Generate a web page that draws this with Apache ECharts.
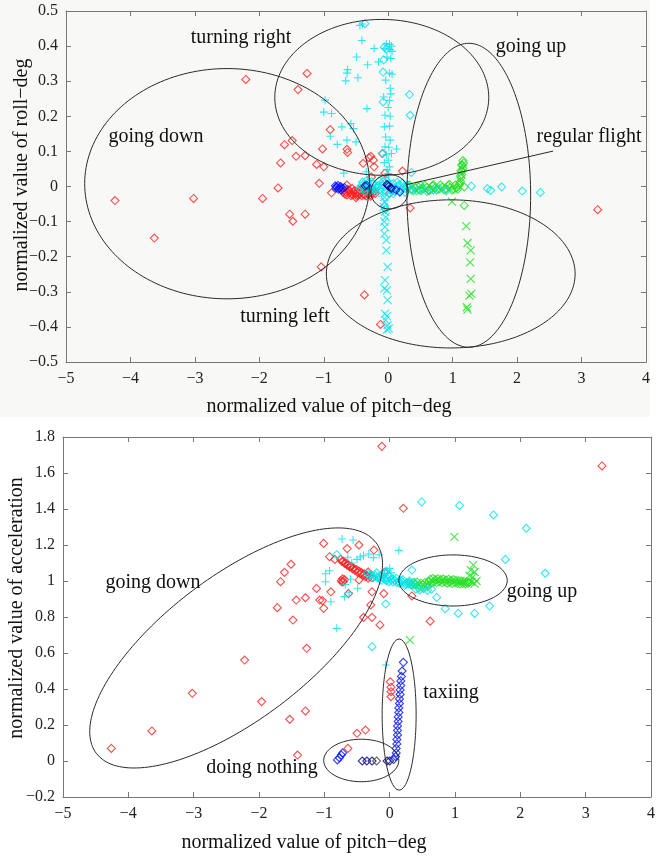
<!DOCTYPE html>
<html>
<head>
<meta charset="utf-8">
<script src="https://cdn.jsdelivr.net/npm/echarts@6/dist/echarts.min.js"></script>
<style>
  html, body { margin: 0; padding: 0; background: #fff; }
  #main { width: 664px; height: 858px; }
</style>
</head>
<body>
<div id="main"></div>
<script>
// ---------- top panel: pitch vs roll ----------
const topRed = [
  [-2.21, 0.305], [-1.26, 0.322], [-1.40, 0.276], [-0.90, 0.162], [-1.49, 0.131],
  [-1.61, 0.119], [-1.02, 0.107], [-0.64, 0.106], [-0.63, 0.097], [-1.43, 0.086],
  [-1.29, 0.088], [-1.67, 0.067], [-1.11, 0.063], [-1.00, 0.056], [-1.71, -0.004],
  [-1.07, 0.009], [-0.88, -0.018], [-4.24, -0.040], [-3.02, -0.034], [-1.95, -0.034],
  [-3.63, -0.147], [-1.53, -0.079], [-1.48, -0.099], [-1.29, -0.079], [-1.04, -0.229],
  [-0.39, 0.066], [-0.27, 0.086], [-0.23, 0.075], [-0.30, 0.082], [-0.22, 0.056],
  [-0.26, 0.027], [-0.09, 0.094], [-0.05, 0.038], [0.22, 0.044], [0.34, -0.061],
  [-0.37, -0.309], [-0.12, -0.393], [0.63, -0.011], [3.25, -0.066], [-0.50, -0.032],
  [-0.27, -0.028], [0.02, -0.020], [-0.64, 0.004]
]
const topRedRun = [
  [-0.72, -0.004], [-0.69, -0.010], [-0.66, -0.015], [-0.63, -0.008], [-0.60, -0.018],
  [-0.57, -0.020], [-0.54, -0.014], [-0.51, -0.021], [-0.48, -0.017], [-0.45, -0.022],
  [-0.42, -0.016], [-0.39, -0.021], [-0.36, -0.012], [-0.33, -0.019], [-0.30, -0.010],
  [-0.27, -0.016], [-0.24, -0.008], [-0.56, -0.006], [-0.46, -0.009], [-0.38, -0.006],
  [-0.70, -0.016], [-0.67, -0.022], [-0.64, -0.024], [-0.61, -0.010], [-0.58, -0.026],
  [-0.55, -0.024], [-0.52, -0.012], [-0.49, -0.026], [-0.47, -0.024], [-0.44, -0.012],
  [-0.41, -0.026], [-0.37, -0.024], [-0.34, -0.027], [-0.31, -0.022], [-0.28, -0.024],
  [-0.25, -0.020], [-0.22, -0.014], [-0.20, -0.020]
]
const topBlue = [
  [-0.82, 0.002], [-0.80, -0.001], [-0.78, 0.003], [-0.76, -0.004], [-0.74, 0.000],
  [-0.71, -0.006], [-0.68, -0.003], [-0.81, -0.005], [-0.77, -0.008], [-0.73, -0.010],
  [-0.33, 0.003], [-0.01, 0.003], [0.05, -0.006], [0.12, -0.010], [0.18, -0.016]
]
const topNavy = [[-0.36, 0.002], [-0.02, 0.006], [0.01, 0.001], [0.04, -0.003]]
const topCyanPlus = [
  [-0.44, 0.459], [-0.40, 0.463], [-0.41, 0.416], [-0.22, 0.393], [-0.49, 0.369],
  [-0.32, 0.347], [-0.63, 0.333], [-0.64, 0.323], [-0.66, 0.301], [-0.47, 0.310],
  [-0.98, 0.246], [-1.00, 0.212], [-0.88, 0.208], [-0.33, 0.222], [-0.72, 0.170],
  [-0.58, 0.179], [-0.54, 0.165], [-0.90, 0.143], [-0.79, 0.120], [-0.64, 0.132],
  [-0.50, 0.127], [-0.69, 0.038], [-0.34, 0.042], [0.13, 0.107], [-0.15, 0.355],
  [-0.03, 0.407], [0.02, 0.405], [0.05, 0.400], [-0.05, 0.393], [0.03, 0.390], [0.06, 0.385],
  [-0.02, 0.369], [0.04, 0.365], [0.02, 0.323], [0.06, 0.320], [-0.04, 0.303], [0.03, 0.280],
  [0.04, 0.264], [-0.07, 0.255], [0.02, 0.245], [0.00, 0.225], [-0.05, 0.203], [0.03, 0.200],
  [-0.06, 0.170], [0.02, 0.172], [-0.04, 0.141], [0.03, 0.132], [-0.05, 0.113], [0.01, 0.112],
  [0.05, 0.094], [-0.03, 0.090], [0.00, 0.075], [-0.06, 0.068], [0.02, 0.056], [-0.02, 0.048],
  [0.00, 0.037], [-0.04, 0.025], [0.01, 0.018]
]
const topCyanCross = [
  [-0.06, -0.030], [-0.05, -0.045], [-0.07, -0.058], [-0.05, -0.072], [-0.04, -0.087],
  [-0.06, -0.100], [-0.05, -0.115], [-0.06, -0.134], [-0.03, -0.153], [-0.03, -0.182],
  [-0.01, -0.229], [-0.05, -0.267], [-0.06, -0.290], [-0.02, -0.296], [-0.01, -0.324],
  [-0.05, -0.362], [-0.02, -0.369], [-0.04, -0.381], [-0.01, -0.395], [0.01, -0.405], [-0.02, -0.408]
]
const topCyanDiamond = [
  [-0.36, 0.464], [-0.06, 0.397], [-0.03, 0.392], [-0.07, 0.361], [-0.08, 0.326],
  [-0.08, 0.241], [0.33, 0.262], [0.34, 0.203], [0.36, 0.040], [-0.09, 0.094],
  [1.29, 0.001], [1.54, -0.006], [1.59, -0.011], [1.76, -0.001], [2.08, -0.013],
  [2.36, -0.017], [-0.05, -0.030], [-0.06, -0.055], [-0.04, -0.065],
  [-0.42, 0.002], [-0.37, -0.006], [-0.32, 0.010], [-0.28, -0.012], [-0.24, 0.006], [-0.20, -0.016],
  [-0.16, 0.002], [-0.12, -0.008], [-0.08, 0.014], [-0.04, -0.014], [0.00, 0.006], [0.04, -0.010],
  [0.08, 0.008], [0.12, -0.004], [0.16, 0.004], [0.20, -0.008], [0.24, 0.000], [0.28, -0.006],
  [-0.30, -0.002], [-0.18, -0.004], [-0.06, -0.002], [0.06, -0.002], [0.18, -0.012], [0.26, -0.016],
  [-0.40, 0.012], [-0.34, 0.016], [-0.26, 0.014], [-0.22, -0.006], [-0.14, 0.016], [-0.10, 0.004],
  [-0.02, 0.016], [0.02, -0.018], [0.10, -0.014], [0.14, 0.012], [0.22, 0.010], [0.30, 0.004],
  [-0.36, -0.014], [-0.14, -0.018], [0.08, -0.020], [-0.44, -0.006],
  [0.36, -0.010], [0.44, -0.012], [0.52, -0.006], [0.60, -0.014], [0.70, -0.010], [0.80, -0.006], [0.90, -0.012]
]
const topGreenDiamond = [
  [0.30, -0.002], [0.36, -0.008], [0.42, -0.004], [0.48, -0.010], [0.54, -0.006], [0.60, -0.003],
  [0.66, -0.009], [0.72, -0.004], [0.78, -0.008], [0.84, -0.002], [0.90, -0.007], [0.96, -0.003],
  [1.02, -0.008], [1.06, -0.004], [1.10, 0.004], [1.12, 0.014], [1.13, 0.024], [1.14, 0.034],
  [1.15, 0.044], [1.16, 0.052], [1.15, 0.060], [1.17, 0.067], [1.16, 0.074], [1.18, -0.001],
  [1.18, -0.054], [0.50, 0.004], [0.70, 0.005], [0.95, 0.006],
  [0.33, 0.004], [0.39, -0.012], [0.45, 0.002], [0.51, -0.012], [0.57, 0.003], [0.63, -0.011],
  [0.69, 0.002], [0.75, -0.010], [0.81, 0.004], [0.87, -0.010], [0.93, 0.003], [0.99, -0.010],
  [1.04, 0.004], [1.08, -0.008], [1.11, 0.008], [1.13, 0.045], [1.14, 0.062], [1.12, 0.030]
]
const topGreenCross = [
  [0.99, -0.043], [1.21, -0.113], [1.23, -0.161], [1.28, -0.182], [1.27, -0.216],
  [1.28, -0.263], [1.29, -0.306], [1.26, -0.311], [1.22, -0.344], [1.23, -0.351]
]

// ---------- bottom panel: pitch vs acceleration ----------
const botRed = [
  [-0.12, 1.748], [3.25, 1.639], [0.21, 1.404], [-1.01, 1.209], [-0.65, 1.180], [-0.47, 1.200],
  [-0.24, 1.172], [-0.92, 1.135], [-0.84, 1.120], [-1.51, 1.093], [-1.61, 1.048], [-1.67, 0.996],
  [-1.12, 0.959], [-0.90, 0.940], [-0.63, 0.930], [-0.47, 1.006], [-0.27, 0.940], [-0.09, 0.930],
  [-0.08, 1.049], [-1.43, 0.894], [-1.29, 0.907], [-1.07, 0.894], [-1.03, 0.891], [-1.01, 0.848],
  [-1.72, 0.852], [-1.48, 0.783], [-0.40, 0.798], [-0.27, 0.798], [-0.29, 0.867], [-0.15, 0.756],
  [0.34, 0.917], [0.62, 0.777], [-1.27, 0.626], [-2.22, 0.561], [-3.02, 0.376], [-1.96, 0.330],
  [-1.29, 0.278], [-1.53, 0.232], [-3.64, 0.167], [-4.26, 0.070], [-1.41, 0.033], [-0.50, 0.154],
  [-0.37, 0.172], [-0.64, 0.070], [0.01, 0.440], [0.02, 0.410], [0.02, 0.385], [0.02, 0.357],
  [-0.61, 1.080], [-0.33, 1.050]
]
const botRedRun = [
  [-0.75, 1.120], [-0.71, 1.110], [-0.67, 1.100], [-0.63, 1.090], [-0.59, 1.082], [-0.55, 1.072],
  [-0.51, 1.064], [-0.47, 1.055], [-0.43, 1.047], [-0.39, 1.040], [-0.35, 1.032], [-0.31, 1.025],
  [-0.27, 1.018], [-0.74, 1.002], [-0.71, 0.996], [-0.69, 1.008], [-0.72, 1.012],
  [-0.73, 1.108], [-0.69, 1.098], [-0.65, 1.088], [-0.61, 1.078], [-0.57, 1.068], [-0.53, 1.058],
  [-0.49, 1.048], [-0.45, 1.040], [-0.41, 1.032], [-0.37, 1.024], [-0.33, 1.016], [-0.73, 0.994]
]
const botCyanDiamond = [
  [0.49, 1.439], [1.07, 1.420], [1.59, 1.367], [2.09, 1.293], [1.77, 1.120], [2.38, 1.043],
  [1.53, 0.861], [1.30, 0.820], [1.05, 0.820], [0.85, 0.846], [0.72, 0.909], [0.34, 1.061],
  [-0.06, 1.052], [-0.06, 0.872], [-0.27, 0.635], [-0.81, 1.146],
  [0.40, 0.955], [0.46, 0.950], [0.52, 0.960], [0.58, 0.948], [0.64, 0.955],
  [-0.34, 1.042], [-0.28, 1.036], [-0.22, 1.030], [-0.16, 1.026], [-0.10, 1.020], [-0.04, 1.014],
  [0.02, 1.008], [0.08, 1.002], [0.14, 0.998], [0.20, 0.994], [0.26, 0.990], [0.32, 0.986],
  [-0.25, 1.020], [-0.15, 1.012], [-0.05, 1.002], [0.05, 0.995], [0.15, 0.988], [0.25, 0.982],
  [-0.20, 1.045], [-0.10, 1.035], [0.00, 1.025], [0.10, 1.015], [0.20, 1.008], [0.30, 1.000],
  [-0.31, 1.028], [-0.19, 1.018], [-0.07, 1.010], [0.05, 1.012], [0.11, 0.990], [0.17, 1.002],
  [0.23, 0.976], [0.29, 0.984], [0.35, 0.978], [0.38, 0.992], [-0.13, 1.004], [-0.01, 0.996]
]
const botCyanPlus = [
  [-0.73, 1.233], [-0.56, 1.228], [-0.64, 1.132], [-0.45, 1.133], [-0.32, 1.150], [-0.16, 1.146],
  [0.14, 1.170], [-0.92, 1.057], [-0.98, 1.040], [-0.98, 0.996], [-0.68, 0.980], [-0.49, 0.960],
  [-0.69, 0.913], [-0.90, 0.885], [-0.81, 0.737], [-0.06, 0.533], [-0.58, 1.100], [-0.50, 1.120],
  [-0.40, 1.140], [-0.25, 1.130], [-0.04, 1.060], [0.00, 1.070], [-0.60, 1.010], [-0.62, 0.935],
  [-0.08, 1.040], [0.02, 1.045]
]
const botGreenDiamond = [
  [0.30, 0.990], [0.33, 0.978], [0.36, 0.992], [0.39, 0.980], [0.42, 0.994], [0.45, 0.975],
  [0.48, 0.988], [0.51, 0.978], [0.54, 0.992], [0.57, 0.982], [0.60, 0.998], [0.62, 1.010],
  [0.64, 0.988], [0.66, 1.014], [0.68, 0.994], [0.70, 1.008], [0.72, 0.990], [0.74, 1.012],
  [0.76, 0.996], [0.78, 1.008], [0.80, 0.990], [0.82, 1.012], [0.84, 0.994], [0.86, 1.006],
  [0.88, 0.988], [0.90, 1.010], [0.92, 0.992], [0.94, 1.004], [0.96, 0.986], [0.98, 1.008],
  [1.00, 0.990], [1.02, 1.004], [1.04, 0.986], [1.06, 1.002], [1.08, 0.984], [1.10, 1.000],
  [1.12, 0.986], [1.14, 0.998], [1.16, 0.984], [1.18, 0.996], [1.20, 0.988], [1.22, 0.994],
  [0.45, 0.962], [0.52, 0.958], [0.58, 0.968]
]
const botGreenCross = [
  [0.99, 1.245], [1.28, 1.090], [1.24, 1.060], [1.30, 1.050], [1.22, 1.030], [1.27, 1.020],
  [1.33, 1.000], [1.25, 0.995], [1.30, 0.985], [0.31, 0.671]
]
const botBlue = [
  [0.21, 0.548], [0.19, 0.500], [0.18, 0.470], [0.17, 0.445], [0.17, 0.420], [0.16, 0.395],
  [0.16, 0.370], [0.15, 0.345], [0.15, 0.320], [0.14, 0.295], [0.14, 0.270], [0.13, 0.245],
  [0.13, 0.220], [0.12, 0.195], [0.12, 0.170], [0.12, 0.145], [0.11, 0.120], [0.11, 0.095],
  [0.10, 0.070], [0.10, 0.045], [0.09, 0.025], [0.06, 0.008], [-0.80, 0.006], [-0.77, 0.018],
  [-0.74, 0.033], [-0.72, 0.045]
]
const botNavy = [[-0.42, 0], [-0.35, 0], [-0.27, 0], [-0.04, 0], [0.00, 0]]
const botGrey = [[-0.20, 0]]

// ellipses: [cx, cy, rx, ry, rotation(deg)]
const topEllipses = [
  [-2.50, 0.008, 2.21, 0.328, 0],
  [-0.10, 0.254, 1.66, 0.222, 0],
  [1.25, -0.025, 0.96, 0.433, 0],
  [0.97, -0.249, 1.93, 0.211, 0],
  [0.02, -0.015, 0.29, 0.049, 0]
]
const topLeader = [[0.28, 0.005], [2.56, 0.101]]
const botEllipses = [
  [-2.35, 0.628, 2.68, 0.40, 37],
  [0.97, 1.003, 0.83, 0.142, 0],
  [0.145, 0.258, 0.26, 0.42, 0],
  [-0.435, 0.003, 0.575, 0.118, 0]
]

const FONT = '"Liberation Serif", "DejaVu Serif", serif'
const RED = '#ff2020', CYAN = '#00e4ee', GREEN = '#20e020', BLUE = '#0010ff', NAVY = '#000080'
const DIAMOND = 'path://M5,0L10,5L5,10L0,5Z'
const PLUS = 'path://M5,0L5,10M0,5L10,5'
const CROSS = 'path://M0,0L10,10M10,0L0,10'

// grid sizes (used to keep rotated ellipses right in pixel space)
const G0 = { left: 66, top: 11, width: 580, height: 351 }
const G1 = { left: 63, top: 437, width: 588, height: 360 }
const k0 = [G0.width / 9, G0.height / 1.0]
const k1 = [G1.width / 9, G1.height / 2.0]

function ellipse(e, k) {
  const [cx, cy, rx, ry, rot] = e
  const r = rot * Math.PI / 180
  const pts = []
  for (let i = 0; i <= 180; i++) {
    const t = i / 180 * Math.PI * 2
    const ux = rx * k[0] * Math.cos(t)
    const uy = ry * k[1] * Math.sin(t)
    const px = ux * Math.cos(r) - uy * Math.sin(r)
    const py = ux * Math.sin(r) + uy * Math.cos(r)
    pts.push([cx + px / k[0], cy + py / k[1]])
  }
  return pts
}

function scatter(data, gi, sym, color, size) {
  return {
    type: 'scatter', xAxisIndex: gi * 2, yAxisIndex: gi * 2, data: data,
    symbol: sym, symbolSize: size || 8, silent: true,
    itemStyle: { color: 'rgba(0,0,0,0)', borderColor: color, borderWidth: 1.1 }
  }
}
function outline(data, gi) {
  return {
    type: 'line', xAxisIndex: gi * 2, yAxisIndex: gi * 2, data: data,
    symbol: 'none', showSymbol: false, silent: true, z: 5,
    lineStyle: { color: '#2a2a2a', width: 1 }
  }
}

const fmt = v => String(Math.round(v * 10) / 10).replace('-', '\u2212')
function xAxes(gi, min, max) {
  const base = {
    gridIndex: gi, type: 'value', min: min, max: max, interval: 1,
    axisLine: { onZero: false, lineStyle: { color: '#777', width: 1 } },
    axisTick: { inside: true, length: 5, lineStyle: { color: '#777' } },
    splitLine: { show: false }
  }
  return [
    Object.assign({}, base, { position: 'bottom', axisLabel: { margin: 9, fontFamily: FONT, fontSize: 16, color: '#222', formatter: fmt } }),
    Object.assign({}, base, { position: 'top', axisLabel: { show: false } })
  ]
}
function yAxes(gi, min, max, step) {
  const base = {
    gridIndex: gi, type: 'value', min: min, max: max, interval: step,
    axisLine: { onZero: false, lineStyle: { color: '#777', width: 1 } },
    axisTick: { inside: true, length: 5, lineStyle: { color: '#777' } },
    splitLine: { show: false }
  }
  return [
    Object.assign({}, base, { position: 'left', axisLabel: { margin: 8, fontFamily: FONT, fontSize: 16, color: '#222', formatter: fmt } }),
    Object.assign({}, base, { position: 'right', axisLabel: { show: false } })
  ]
}

function label(text, x, y, size, rot) {
  return {
    type: 'text', x: x, y: y, rotation: rot || 0, silent: true, z: 10,
    style: { text: text, fill: '#111', font: (size || 20) + 'px ' + FONT, align: 'center', verticalAlign: 'middle' }
  }
}

const myChart = echarts.init(document.getElementById('main'), null, { renderer: 'canvas' })

const series = [
  scatter(topRed, 0, DIAMOND, RED), scatter(topRedRun, 0, DIAMOND, RED),
  scatter(topGreenDiamond, 0, DIAMOND, GREEN), scatter(topGreenCross, 0, CROSS, GREEN),
  scatter(topCyanCross, 0, CROSS, CYAN), scatter(topCyanPlus, 0, PLUS, CYAN),
  scatter(topCyanDiamond, 0, DIAMOND, CYAN),
  scatter(topBlue, 0, DIAMOND, BLUE), scatter(topNavy, 0, DIAMOND, NAVY),
  scatter(botRed, 1, DIAMOND, RED), scatter(botRedRun, 1, DIAMOND, RED),
  scatter(botGreenDiamond, 1, DIAMOND, GREEN), scatter(botCyanPlus, 1, PLUS, CYAN),
  scatter(botCyanDiamond, 1, DIAMOND, CYAN), scatter(botGreenCross, 1, CROSS, GREEN),
  scatter(botBlue, 1, DIAMOND, BLUE), scatter(botNavy, 1, DIAMOND, NAVY),
  scatter(botGrey, 1, DIAMOND, '#444')
]
topEllipses.forEach(e => series.push(outline(ellipse(e, k0), 0)))
series.push(outline(topLeader, 0))
botEllipses.forEach(e => series.push(outline(ellipse(e, k1), 1)))

const option = {
  animation: false,
  backgroundColor: '#fff',
  grid: [
    Object.assign({ outerBoundsMode: 'none', containLabel: false }, G0),
    Object.assign({ outerBoundsMode: 'none', containLabel: false }, G1)
  ],
  xAxis: [...xAxes(0, -5, 4), ...xAxes(1, -5, 4)],
  yAxis: [...yAxes(0, -0.5, 0.5, 0.1), ...yAxes(1, -0.2, 1.8, 0.2)],
  graphic: [
    { type: 'rect', shape: { x: 0, y: 0, width: 650, height: 417 }, style: { fill: '#f8f9f7' }, z: -10, silent: true },
    label('turning right', 241, 38), label('going up', 531, 47), label('going down', 156, 137),
    label('regular flight', 589, 137), label('turning left', 285, 317),
    label('going down', 153, 583), label('going up', 542, 592), label('taxiing', 451, 693),
    label('doing nothing', 262, 768),
    label('normalized value of pitch\u2212deg', 329, 407),
    label('normalized value of pitch\u2212deg', 304, 843),
    label('normalized value of roll\u2212deg', 22, 175, 20, Math.PI / 2),
    label('normalized value of acceleration', 17, 608, 20, Math.PI / 2)
  ],
  series: series
}
myChart.setOption(option)
</script>
</body>
</html>
